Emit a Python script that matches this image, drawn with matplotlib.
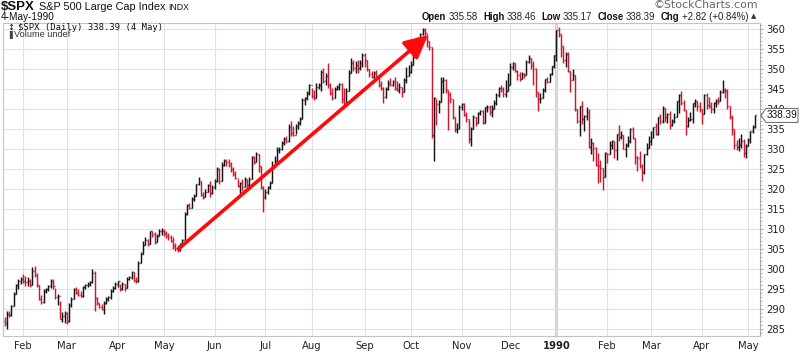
import numpy as np
import matplotlib
matplotlib.use("Agg")
import matplotlib.pyplot as plt
from matplotlib.collections import LineCollection
from matplotlib.patches import Polygon
from matplotlib.ticker import MultipleLocator

# ---------------- data (daily OHLC, $SPX, 20-Jan-1989 .. 4-May-1990) ----------------
month_labels = ['Feb', 'Mar', 'Apr', 'May', 'Jun', 'Jul', 'Aug', 'Sep', 'Oct', 'Nov', 'Dec',
                '1990', 'Feb', 'Mar', 'Apr', 'May']
# trading days per month, Jan-1989 (partial) ... May-1990 (partial)
month_days = [8, 19, 22, 20, 22, 22, 20, 23, 20, 22, 21, 20, 22, 19, 22, 20, 4]

first_open = 286.9

highs = [
    # Jan 89
    287.9, 289.5, 289.6, 291.0, 294.2, 296.3, 297.5, 297.9,
    # Feb 89
    298.8, 298.3, 297.9, 297.6, 300.4, 300.8, 299.0, 296.1, 293.5, 295.0, 295.2, 296.0, 297.6, 297.5,
    295.2, 293.8, 292.0, 289.3, 289.5,
    # Mar 89
    289.2, 291.5, 292.9, 295.2, 295.4, 295.0, 294.6, 295.8, 296.3, 296.7, 297.0, 300.0, 299.6, 292.9,
    291.6, 291.2, 292.0, 292.9, 293.3, 295.0, 295.8, 296.8,
    # Apr 89
    297.1, 296.3, 296.7, 296.3, 297.9, 298.3, 299.6, 299.2, 298.0, 302.0, 304.2, 307.0, 307.9, 307.5,
    309.6, 309.6, 309.2, 308.8, 310.0, 310.2,
    # May 89
    310.0, 309.5, 309.0, 308.4, 308.0, 306.5, 306.0, 306.6, 307.5, 314.2, 316.3, 316.4, 317.9, 318.8,
    321.3, 322.9, 322.0, 319.2, 320.0, 321.3, 322.1, 321.0,
    # Jun 89
    322.5, 325.4, 325.2, 326.8, 327.5, 327.6, 327.5, 326.7, 325.4, 324.6, 322.6, 321.7, 322.5, 322.9,
    322.6, 322.9, 328.3, 328.3, 329.2, 328.8, 325.8, 320.8,
    # Jul 89
    320.0, 320.8, 322.1, 327.0, 328.3, 330.4, 330.4, 332.0, 332.9, 333.3, 336.2, 337.1, 335.8, 336.3,
    337.0, 338.0, 342.7, 343.1, 344.5, 346.2,
    # Aug 89
    345.2, 344.8, 346.5, 346.5, 349.8, 350.2, 349.0, 351.4, 346.5, 345.2, 345.6, 346.0, 346.5, 346.5,
    345.2, 345.2, 349.8, 352.7, 352.3, 351.9, 352.3, 352.3, 354.0,
    # Sep 89
    354.0, 352.3, 350.0, 349.4, 349.4, 349.8, 348.1, 346.9, 345.6, 345.6, 347.3, 347.7, 347.3, 348.1,
    346.9, 346.5, 345.6, 347.7, 350.6, 351.0,
    # Oct 89
    351.9, 355.2, 356.9, 358.0, 359.0, 360.2, 360.2, 358.8, 357.0, 355.5, 343.0, 342.5, 342.2, 348.0,
    348.0, 347.5, 344.8, 344.3, 342.5, 338.0, 336.4, 341.0,
    # Nov 89
    341.6, 341.4, 339.3, 337.6, 335.6, 338.5, 338.1, 339.3, 339.8, 339.8, 340.6, 341.0, 341.0, 341.0,
    342.3, 343.9, 345.6, 346.0, 345.6, 347.3, 348.9,
    # Dec 89
    351.4, 351.8, 351.5, 349.8, 349.3, 349.2, 349.0, 352.2, 353.5, 352.8, 352.0, 350.2, 344.2, 343.9,
    345.2, 347.5, 348.0, 349.0, 350.7, 353.5,
    # Jan 90
    359.7, 360.6, 358.8, 355.7, 354.2, 354.2, 349.6, 350.1, 348.5, 339.9, 340.8, 342.0, 338.4, 340.5,
    339.9, 332.8, 331.7, 330.6, 329.0, 327.3, 325.2, 329.2,
    # Feb 90
    329.1, 332.1, 332.2, 331.9, 333.8, 336.1, 334.6, 333.6, 331.6, 333.2, 335.2, 335.5, 332.7, 328.2,
    329.5, 326.2, 328.7, 331.4, 333.2,
    # Mar 90
    334.4, 335.5, 336.4, 337.9, 338.8, 340.7, 340.3, 339.1, 339.5, 337.6, 338.9, 342.0, 343.8, 344.5,
    342.3, 339.8, 337.9, 339.2, 341.5, 342.6, 342.1, 341.7,
    # Apr 90
    339.9, 343.8, 344.1, 342.9, 341.7, 341.8, 342.4, 343.0, 344.8, 347.3, 345.2, 345.0, 340.8, 338.5,
    335.1, 332.2, 332.7, 333.8, 332.6, 331.3,
    # May 90
    332.8, 334.5, 336.1, 338.46,
]

lows = [
    # Jan 89
    285.8, 284.9, 288.0, 288.3, 290.8, 293.8, 295.0, 296.2,
    # Feb 89
    296.5, 295.8, 295.8, 295.4, 296.0, 297.9, 295.6, 292.2, 291.2, 291.5, 294.0, 294.6, 295.3, 295.0,
    292.5, 291.0, 287.5, 286.7, 286.6,
    # Mar 89
    286.3, 286.8, 290.4, 292.4, 293.7, 293.3, 292.9, 292.9, 295.0, 295.4, 295.8, 296.5, 289.5, 291.0,
    290.2, 289.8, 288.7, 291.2, 292.1, 292.5, 294.3, 295.0,
    # Apr 89
    295.4, 294.6, 294.8, 294.6, 295.3, 297.3, 297.5, 296.7, 296.6, 296.7, 301.4, 303.8, 306.0, 305.8,
    306.2, 307.9, 306.2, 306.8, 308.3, 308.6,
    # May 89
    308.3, 307.8, 307.2, 306.7, 305.0, 304.6, 304.2, 304.5, 306.0, 307.2, 313.6, 315.0, 315.3, 317.0,
    318.3, 320.9, 318.3, 317.5, 318.0, 319.2, 318.0, 318.8,
    # Jun 89
    320.0, 321.7, 321.3, 322.0, 325.8, 325.8, 325.6, 324.2, 323.3, 322.5, 320.5, 318.8, 319.6, 320.5,
    320.0, 320.8, 322.5, 326.2, 326.8, 324.2, 320.0, 314.2,
    # Jul 89
    317.5, 318.8, 320.0, 321.6, 325.5, 327.0, 329.0, 329.8, 331.0, 331.6, 331.7, 333.3, 333.3, 333.7,
    335.0, 336.0, 337.6, 341.0, 342.3, 343.5,
    # Aug 89
    342.7, 342.3, 342.8, 345.0, 344.4, 346.5, 346.0, 345.2, 343.5, 342.3, 342.8, 344.8, 344.8, 341.5,
    340.6, 341.2, 344.5, 349.0, 349.4, 349.0, 349.0, 349.8, 350.6,
    # Sep 89
    350.6, 349.4, 348.1, 347.7, 347.7, 347.3, 345.6, 344.8, 341.5, 342.8, 344.8, 345.8, 345.8, 344.8,
    344.4, 344.0, 343.1, 344.2, 346.5, 348.3,
    # Oct 89
    348.9, 350.9, 354.5, 356.0, 356.8, 358.4, 357.7, 355.6, 354.8, 332.8, 327.0, 336.0, 339.0, 341.8,
    344.0, 343.9, 334.8, 341.4, 337.5, 334.3, 333.9, 335.1,
    # Nov 89
    339.8, 338.2, 336.8, 331.4, 330.8, 335.0, 335.8, 336.6, 338.5, 336.2, 336.6, 339.3, 338.5, 338.1,
    340.0, 341.0, 343.1, 344.3, 343.1, 343.1, 344.6,
    # Dec 89
    346.0, 349.8, 349.3, 347.3, 347.0, 347.5, 347.7, 348.5, 351.5, 350.0, 346.0, 343.0, 339.5, 341.5,
    342.7, 344.3, 346.4, 346.8, 348.5, 350.2,
    # Jan 90
    351.9, 357.9, 352.9, 351.4, 350.5, 349.2, 344.3, 347.3, 339.5, 336.6, 333.2, 336.3, 334.5, 337.2,
    330.3, 328.7, 326.9, 325.7, 321.4, 321.8, 319.8, 322.9,
    # Feb 90
    326.5, 328.8, 330.0, 327.8, 327.3, 332.0, 332.4, 329.9, 327.9, 330.6, 331.6, 332.4, 326.3, 324.5,
    325.3, 322.1, 323.8, 328.5, 330.3,
    # Mar 90
    331.1, 332.7, 333.5, 333.6, 336.3, 336.6, 336.8, 336.6, 335.1, 335.8, 336.5, 338.1, 339.1, 340.9,
    339.5, 333.6, 335.6, 337.1, 336.6, 340.6, 339.6, 339.2,
    # Apr 90
    336.3, 338.7, 340.1, 340.3, 338.9, 339.1, 340.6, 341.2, 341.9, 344.1, 342.8, 340.1, 337.6, 333.5,
    330.1, 329.8, 329.6, 330.2, 328.0, 327.8,
    # May 90
    330.8, 331.5, 333.9, 335.17,
]

closes = [
    # Jan 89
    286.6, 288.8, 288.4, 290.8, 293.8, 295.9, 297.0, 297.5,
    # Feb 89
    297.1, 296.8, 297.0, 296.0, 299.6, 298.6, 296.1, 292.5, 291.8, 294.5, 295.0, 295.8, 297.1, 295.8,
    292.9, 293.2, 287.6, 288.2, 288.9,
    # Mar 89
    287.1, 291.0, 292.4, 294.9, 294.0, 293.6, 293.2, 295.4, 295.9, 296.3, 296.8, 299.0, 292.7, 291.4,
    290.6, 290.1, 291.5, 292.6, 293.1, 294.6, 295.3, 296.2,
    # Apr 89
    296.9, 295.0, 296.3, 295.3, 297.6, 298.0, 299.2, 297.2, 296.9, 301.4, 303.8, 306.0, 307.2, 306.2,
    309.4, 308.7, 306.8, 308.3, 309.6, 309.6,
    # May 89
    309.1, 308.2, 308.0, 307.0, 305.8, 305.2, 304.8, 306.2, 307.2, 313.8, 316.1, 315.3, 317.5, 318.3,
    321.2, 321.9, 318.5, 318.1, 319.2, 321.0, 319.0, 320.5,
    # Jun 89
    321.9, 325.0, 322.0, 326.0, 327.0, 326.7, 326.2, 325.0, 323.8, 322.8, 320.8, 321.4, 320.6, 322.6,
    321.0, 322.5, 328.0, 326.8, 328.8, 325.8, 320.5, 318.0,
    # Jul 89
    319.2, 320.4, 321.6, 325.5, 327.1, 329.8, 330.0, 331.4, 332.5, 332.1, 335.5, 334.0, 333.6, 335.8,
    336.5, 337.6, 342.2, 342.8, 343.9, 346.1,
    # Aug 89
    343.3, 342.8, 345.6, 346.0, 349.3, 347.0, 348.2, 346.0, 344.0, 342.8, 345.0, 345.6, 346.2, 342.5,
    341.2, 344.5, 349.0, 351.5, 350.2, 351.0, 350.3, 351.4, 353.5,
    # Sep 89
    352.3, 350.0, 348.8, 348.0, 349.0, 347.8, 346.0, 345.2, 343.0, 345.0, 346.5, 346.0, 346.9, 345.2,
    344.8, 345.6, 344.2, 347.3, 348.3, 349.2,
    # Oct 89
    350.9, 354.7, 356.4, 357.0, 358.8, 359.8, 359.1, 357.0, 355.4, 333.6, 342.8, 341.2, 341.8, 347.1,
    347.2, 344.8, 343.7, 342.5, 337.9, 335.1, 335.1, 340.4,
    # Nov 89
    341.2, 338.5, 337.6, 332.6, 335.0, 338.0, 336.6, 339.1, 339.6, 336.6, 340.5, 340.6, 339.2, 340.0,
    341.6, 343.5, 345.2, 344.9, 343.8, 344.6, 346.0,
    # Dec 89
    350.6, 351.4, 349.6, 348.6, 347.6, 348.7, 348.6, 351.7, 352.8, 350.9, 350.1, 344.2, 342.5, 342.8,
    344.8, 347.4, 346.8, 348.8, 350.7, 353.4,
    # Jan 90
    359.7, 358.8, 355.7, 352.2, 353.8, 349.6, 347.3, 348.5, 339.9, 337.0, 340.8, 337.4, 338.2, 339.2,
    330.4, 331.6, 330.3, 326.1, 325.8, 325.2, 323.0, 329.1,
    # Feb 90
    328.8, 330.9, 331.9, 329.7, 333.8, 333.0, 333.6, 330.1, 331.0, 332.0, 334.9, 332.7, 328.0, 327.7,
    325.7, 324.2, 328.7, 330.3, 331.9,
    # Mar 90
    332.7, 335.5, 333.7, 337.9, 337.0, 340.3, 337.9, 338.7, 336.0, 336.9, 338.1, 341.9, 343.5, 341.6,
    339.7, 335.7, 337.2, 337.6, 341.5, 342.0, 340.8, 339.9,
    # Apr 90
    338.7, 343.6, 341.1, 340.7, 340.1, 341.4, 342.1, 341.9, 344.3, 344.7, 344.6, 340.7, 338.1, 335.1,
    331.1, 330.4, 331.1, 332.0, 329.1, 330.8,
    # May 90
    332.3, 334.5, 335.57, 338.39,
]

# historical SPX: the open equals the prior session's close
opens = [first_open] + closes[:-1]

last_label = "338.39"
# ---------------------------------------------------------------------------------------

W, H = 800, 353
fig = plt.figure(figsize=(W / 100, H / 100), dpi=100)
fig.patch.set_facecolor('white')

ax_l, ax_r, ax_t, ax_b = 3, 759.5, 23, 336
ax = fig.add_axes([ax_l / W, 1 - ax_b / H, (ax_r - ax_l) / W, (ax_b - ax_t) / H])

hi = np.array(highs)
lo = np.array(lows)
cl = np.array(closes)
op = np.array(opens)
n = len(cl)
x = np.arange(n)
prev = np.r_[op[0], cl[:-1]]
up = cl >= prev
black, red = '#151515', '#cc1a33'
cols = [black if u else red for u in up]

segs, scol = [], []
tick = 0.42
for i in range(n):
    segs.append([(x[i], lo[i]), (x[i], hi[i])])
    segs.append([(x[i] - tick, op[i]), (x[i], op[i])])
    segs.append([(x[i], cl[i]), (x[i] + tick, cl[i])])
    scol += [cols[i]] * 3
ax.add_collection(LineCollection(segs, colors=scol, linewidths=1.05, zorder=3))

month_starts = np.cumsum(month_days)[:-1]
ax.set_xlim(-0.65, 326.9)
ax.set_ylim(283.25, 361.5)

ax.set_yticks(np.arange(285, 361, 5))
ax.yaxis.set_minor_locator(MultipleLocator(1))
ax.set_xticks(month_starts)
ax.set_xticklabels(month_labels)
for lab in ax.get_xticklabels():
    if lab.get_text() == '1990':
        lab.set_fontweight('bold')

ax.grid(True, which='major', color='#e2e2e2', lw=0.8, zorder=0)
year_pos = month_starts[month_labels.index('1990')]
ax.axvline(year_pos, color='#bcbcbc', lw=1.8, zorder=1)

ax.yaxis.tick_right()
ax.tick_params(axis='y', which='major', labelsize=7.2, length=2.5, pad=2.5,
               colors='#9a9a9a', labelcolor='#222222', width=0.6)
ax.tick_params(axis='y', which='minor', length=1.3, colors='#9a9a9a', width=0.5)
ax.tick_params(axis='x', labelsize=7.2, length=0, pad=3.5, labelcolor='#222222')
for s in ['left', 'top', 'bottom']:
    ax.spines[s].set_color('#c4c4c4')
    ax.spines[s].set_linewidth(0.8)
ax.spines['right'].set_color('#a8a8a8')
ax.spines['right'].set_linewidth(0.8)

# trend arrow from the May-89 low to the Oct-89 high
a0, a1 = 75, 183
ax.annotate('', xy=(a1 + 0.4, hi[a1] - 0.3), xytext=(a0 + 0.3, lo[a0] + 0.8),
            arrowprops=dict(arrowstyle='-|>,head_length=1.0,head_width=0.5',
                            color='#ff0a0a', lw=2.6, mutation_scale=14,
                            shrinkA=0, shrinkB=0), zorder=5)

# ---------------- last price tag (pointer shape on the right axis) ----------------
fig.canvas.draw()
renderer = fig.canvas.get_renderer()
y_tag = ax.transData.transform((0, cl[-1]))[1]          # display px from bottom
x0_tag = ax.transAxes.transform((1, 0))[0] + 1.5
pts = [(x0_tag, y_tag), (x0_tag + 5, y_tag + 7), (798, y_tag + 7),
       (798, y_tag - 7), (x0_tag + 5, y_tag - 7)]
fig.add_artist(Polygon([(px / W, py / H) for px, py in pts], closed=True,
                       transform=fig.transFigure, fc='white', ec='#666666', lw=0.7, zorder=10))
fig.text((x0_tag + 5.5 + (798 - x0_tag - 5.5) / 2) / W, y_tag / H, last_label,
         fontsize=7.2, family='Liberation Sans', color='#111111', va='center', ha='center',
         zorder=11)


# ---------------- header text ----------------
def chain(parts, y_px, x_px, align='left'):
    objs, gaps = [], []
    for s, gap, kw in parts:
        t = fig.text(0, 1 - y_px / H, s, va='center', ha='left', **kw)
        objs.append(t)
        gaps.append(gap)
    widths = [t.get_window_extent(renderer).width for t in objs]
    total = sum(widths) + sum(gaps[:-1])
    xx = x_px if align == 'left' else x_px - total
    for t, w, g in zip(objs, widths, gaps):
        t.set_x(xx / W)
        xx += w + g


sans = 'Liberation Sans'
chain([('$SPX', 4, dict(fontsize=9.5, fontweight='bold', family=sans, color='#111')),
       ('S&P 500 Large Cap Index', 3, dict(fontsize=7.8, family=sans, color='#111')),
       ('INDX', 0, dict(fontsize=6.3, family=sans, color='#111'))], 7.5, 1)
fig.text(1 / W, 1 - 17 / H, '4-May-1990', fontsize=7.2, family=sans, color='#111', va='center')
fig.text(758 / W, 1 - 5 / H, '\u00a9StockCharts.com', fontsize=7.9, family='DejaVu Sans',
         color='#666666', va='center', ha='right')

b = dict(fontsize=6.9, fontweight='bold', family=sans, color='#111')
r = dict(fontsize=6.9, family=sans, color='#222')
chain([('Open', 2.5, b), ('335.58', 5, r), ('High', 2.5, b), ('338.46', 5, r),
       ('Low', 2.5, b), ('335.17', 5, r), ('Close', 2.5, b), ('338.39', 5, r),
       ('Chg', 2.5, b), ('+2.82 (+0.84%)', 2.5, r),
       ('\u25b2', 0, dict(fontsize=5, family='DejaVu Sans', color='#333'))], 16.5, 756, 'right')

fig.text(18 / W, 1 - 27 / H, '$SPX (Daily) 338.39 (4 May)', fontsize=6.4,
         family='DejaVu Sans Mono', color='#111', va='center')
fig.text(14 / W, 1 - 34.5 / H, 'Volume undef', fontsize=6.6, family=sans,
         color='#333', va='center')
# small legend icons
fig.text(7 / W, 1 - 27 / H, '\u2195', fontsize=6, family='DejaVu Sans', color='#111', va='center')
fig.text(6 / W, 1 - 34.5 / H, '\u2590', fontsize=5.5, family='DejaVu Sans', color='#444', va='center')

fig.savefig('out.png', dpi=100, facecolor='white')
